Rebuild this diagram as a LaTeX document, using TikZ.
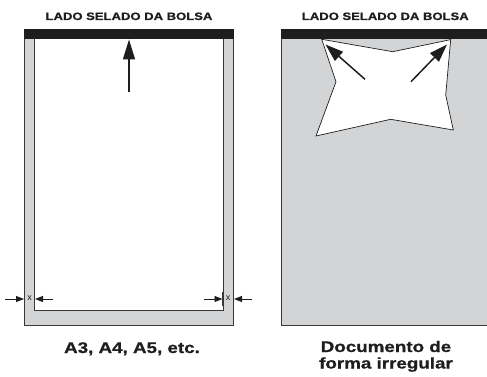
\documentclass[tikz,border=0pt]{standalone}
\usepackage{fontspec}
\setmainfont{Liberation Sans}[BoldFeatures={FakeBold=0.8}]
\usetikzlibrary{arrows.meta}
\definecolor{bag}{RGB}{211,212,214}
\definecolor{edge}{RGB}{55,55,55}
\definecolor{ink}{RGB}{30,30,30}
\begin{document}
\begin{tikzpicture}[x=1pt,y=-1pt,
  title/.style={anchor=base,text=ink,font=\bfseries\fontsize{10.7}{12}\selectfont,inner sep=0},
  caption/.style={anchor=base,text=ink,font=\bfseries\fontsize{15.4}{16}\selectfont,inner sep=0},
  bigarrow/.style={draw=ink,line width=1.5pt,-{Triangle[length=20pt,width=12pt]}},
  dimarrow/.style={draw=ink,line width=0.9pt,-{Triangle[length=8pt,width=6pt]}},
  edgeline/.style={draw=edge,line width=0.8pt},
  tick/.style={draw=edge,line width=1.1pt},
  xlabel/.style={text=ink,font=\fontsize{9}{10}\selectfont,inner sep=0}
]
\useasboundingbox (0,0) rectangle (487,377);

% ---------- left bag ----------
\path[fill=bag,edgeline] (24.5,34) rectangle (233.5,325);
\path[fill=white,edgeline] (34.5,39) -- (34.5,310) -- (223,310) -- (223,39);
\fill[ink] (24,29.5) rectangle (234,39);
\node[title] (t1) at (129,20) {\scalebox{1.22}[1]{LADO SELADO DA BOLSA}};
\coordinate (a1s) at (129,92);
\coordinate (a1e) at (129,39.5);
\draw[bigarrow] (a1s) -- (a1e);

% dimension marks
\draw[tick] (24.5,292) -- (24.5,306);
\draw[tick] (34.5,292) -- (34.5,306);
\draw[tick] (223,292) -- (223,306);
\draw[tick] (233.5,292) -- (233.5,306);
\node[xlabel] (x1) at (29.5,298.5) {x};
\node[xlabel] (x2) at (228.2,298.5) {x};
\coordinate (d1s) at (5,299);   \coordinate (d1e) at (24,299);
\coordinate (d2s) at (53,299);  \coordinate (d2e) at (35,299);
\coordinate (d3s) at (204,299); \coordinate (d3e) at (222.5,299);
\coordinate (d4s) at (252,299); \coordinate (d4e) at (234,299);
\draw[dimarrow] (d1s) -- (d1e);
\draw[dimarrow] (d2s) -- (d2e);
\draw[dimarrow] (d3s) -- (d3e);
\draw[dimarrow] (d4s) -- (d4e);

\node[caption] (c1) at (132,353) {\scalebox{1.22}[1]{A3, A4, A5, etc.}};

% ---------- right bag ----------
\fill[bag] (281,34) rectangle (487,325);
\draw[edgeline] (281,34) -- (281,325) -- (487.5,325);
\fill[ink] (280.6,29.5) rectangle (487,39);
\node[title] (t2) at (385.3,20) {\scalebox{1.22}[1]{LADO SELADO DA BOLSA}};
\draw[fill=white,draw=ink,line width=0.7pt]
  (321.7,39.3) -- (392.7,51.7) -- (450.7,39.6) -- (445.7,95) -- (453.3,130)
  -- (390.7,119.3) -- (316,136) -- (336,81.7) -- cycle;
\coordinate (a2s) at (365,79.3);  \coordinate (a2e) at (325.5,44.5);
\coordinate (a3s) at (411,81.7);  \coordinate (a3e) at (447,44.5);
\draw[bigarrow,-{Triangle[length=18pt,width=12pt]}] (a2s) -- (a2e);
\draw[bigarrow,-{Triangle[length=18pt,width=12pt]}] (a3s) -- (a3e);

\node[caption] (c2) at (386,352) {\scalebox{1.22}[1]{Documento de}};
\node[caption] (c3) at (386,368.5) {\scalebox{1.22}[1]{forma irregular}};
\end{tikzpicture}
\end{document}
